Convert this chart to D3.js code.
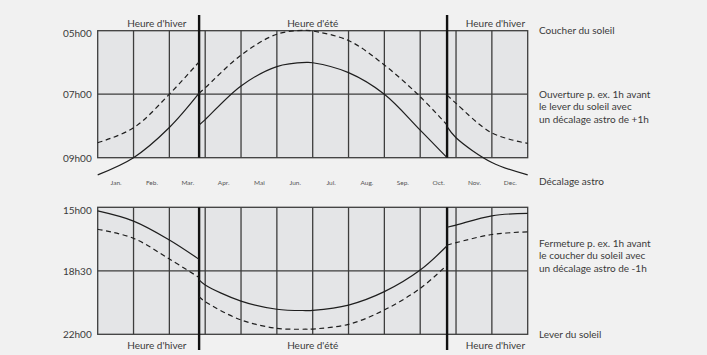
<!DOCTYPE html>
<html>
<head>
<meta charset="utf-8">
<script src="https://cdn.jsdelivr.net/npm/d3@7"></script>
<style>
  html, body { margin: 0; padding: 0; background: #f1f1f1; }
  svg { display: block; font-family: Lato, "Open Sans", sans-serif; }
</style>
</head>
<body>
<svg id="chart" width="707" height="355"></svg>
<script>
// Month names along the shared x axis
const months = ["Jan.", "Feb.", "Mar.", "Apr.", "Mai", "Jun.", "Jul.", "Aug.", "Sep.", "Oct.", "Nov.", "Dec."];

// Hour ticks for the morning (top) and evening (bottom) panels
const morningTicks = [5, 7, 9];
const morningLabels = ["05h00", "07h00", "09h00"];
const eveningTicks = [15, 18.5, 22];
const eveningLabels = ["15h00", "18h30", "22h00"];

// Clock change dates, as month positions (0 = 1 Jan, 12 = 31 Dec)
const dstStart = 2.83;
const dstEnd = 9.75;

// Morning, solid curve: [month position, hour]
const morningSolidWinter1 = [[0, 9.54], [1, 9.0], [2, 8.05], [2.83, 6.97]];
const morningSolidSummer = [[2.83, 7.97], [3, 7.8], [4, 6.74], [5, 6.13], [5.83, 6.0], [6, 6.01], [7, 6.32], [8, 7.0], [9, 8.13], [9.75, 9.0]];
const morningSolidWinter2 = [[9.75, 8.02], [10, 8.37], [11, 9.15], [12, 9.54]];

// Morning, dashed curve
const morningDashWinter1 = [[0, 8.53], [1, 8.06], [2, 7.0], [2.83, 5.98]];
const morningDashSummer = [[2.83, 6.97], [3, 6.8], [4, 5.77], [5, 5.11], [5.8, 4.99], [6, 5.01], [7, 5.31], [8, 6.08], [9, 7.08], [9.75, 7.97]];
const morningDashWinter2 = [[9.75, 7.03], [10, 7.29], [11, 8.22], [12, 8.55]];

// Evening, solid curve
const eveningSolidWinter1 = [[0, 15.2], [1, 15.76], [2, 16.8], [2.83, 17.87]];
const eveningSolidSummer = [[2.83, 19.0], [3, 19.28], [4, 20.17], [5, 20.62], [5.8, 20.69], [6, 20.68], [7, 20.39], [8, 19.65], [9, 18.46], [9.75, 17.12]];
const eveningSolidWinter2 = [[9.75, 16.1], [10, 15.98], [11, 15.47], [12, 15.33]];

// Evening, dashed curve
const eveningDashWinter1 = [[0, 16.21], [1, 16.71], [2, 17.85], [2.83, 18.87]];
const eveningDashSummer = [[2.83, 19.93], [3, 20.2], [4, 21.21], [5, 21.67], [5.8, 21.72], [6, 21.71], [7, 21.45], [8, 20.66], [9, 19.47], [9.75, 18.18]];
const eveningDashWinter2 = [[9.75, 17.08], [10, 16.95], [11, 16.5], [12, 16.35]];

// Season headers and side notes
const seasonNames = ["Heure d'hiver", "Heure d'été", "Heure d'hiver"];
const morningNotes = [
  { lines: ["Coucher du soleil"], y: 30 },
  { lines: ["Ouverture p. ex. 1h avant", "le lever du soleil avec", "un décalage astro de +1h"], y: 94 },
  { lines: ["Décalage astro"], y: 181 }
];
const eveningNotes = [
  { lines: ["Fermeture p. ex. 1h avant", "le coucher du soleil avec", "un décalage astro de -1h"], y: 243 },
  { lines: ["Lever du soleil"], y: 334 }
];

const svg = d3.select("#chart");
const gridColor = "#3d3d3d";
const inkColor = "#1e1e1e";
const textColor = "#3a3a3a";

const x = d3.scaleLinear().domain([0, 12]).range([97.7, 527.7]);
const yMorning = d3.scaleLinear().domain([5, 9]).range([30.7, 157.7]);
const yEvening = d3.scaleLinear().domain([15, 22]).range([207.3, 334.3]);

function drawPanel(y, ticks, labels, midValue) {
  const g = svg.append("g");
  const [y0, y1] = y.range();
  g.append("rect")
    .attr("x", x(0)).attr("y", y0)
    .attr("width", x(12) - x(0)).attr("height", y1 - y0)
    .attr("fill", "#e4e5e7");
  // month separators
  g.selectAll("line.month").data(d3.range(1, 12)).join("line")
    .attr("x1", d => x(d)).attr("x2", d => x(d))
    .attr("y1", y0).attr("y2", y1)
    .attr("stroke", gridColor).attr("stroke-width", 1.3);
  // middle hour line
  g.append("line")
    .attr("x1", x(0)).attr("x2", x(12))
    .attr("y1", y(midValue)).attr("y2", y(midValue))
    .attr("stroke", gridColor).attr("stroke-width", 1.3);
  g.append("rect")
    .attr("x", x(0)).attr("y", y0)
    .attr("width", x(12) - x(0)).attr("height", y1 - y0)
    .attr("fill", "none").attr("stroke", gridColor).attr("stroke-width", 1.3);

  // hour axis
  const axis = d3.axisLeft(y)
    .tickValues(ticks)
    .tickFormat((d, i) => labels[i])
    .tickSize(0).tickPadding(6);
  const ag = svg.append("g").attr("transform", `translate(${x(0)},0)`).call(axis);
  ag.select(".domain").remove();
  ag.selectAll("text")
    .attr("font-family", "Lato, 'Open Sans', sans-serif")
    .attr("font-size", 10).attr("fill", textColor)
    .attr("dy", (d, i) => i === 0 ? "0.62em" : "0.36em");
  return g;
}

drawPanel(yMorning, morningTicks, morningLabels, 7);
drawPanel(yEvening, eveningTicks, eveningLabels, 18.5);

// clock change markers
[dstStart, dstEnd].forEach(m => {
  svg.append("line")
    .attr("x1", x(m)).attr("x2", x(m))
    .attr("y1", 15).attr("y2", yMorning.range()[1])
    .attr("stroke", "#111").attr("stroke-width", 2.4);
  svg.append("line")
    .attr("x1", x(m)).attr("x2", x(m))
    .attr("y1", yEvening.range()[0]).attr("y2", 350)
    .attr("stroke", "#111").attr("stroke-width", 2.4);
});

// curves
function drawCurve(data, y, dashed) {
  const line = d3.line()
    .x(d => x(d[0])).y(d => y(d[1]))
    .curve(d3.curveCatmullRom.alpha(0.5));
  svg.append("path")
    .datum(data)
    .attr("d", line)
    .attr("fill", "none")
    .attr("stroke", inkColor)
    .attr("stroke-width", 1.2)
    .attr("stroke-dasharray", dashed ? "5,3.5" : null);
}

[morningSolidWinter1, morningSolidSummer, morningSolidWinter2].forEach(d => drawCurve(d, yMorning, false));
[morningDashWinter1, morningDashSummer, morningDashWinter2].forEach(d => drawCurve(d, yMorning, true));
[eveningSolidWinter1, eveningSolidSummer, eveningSolidWinter2].forEach(d => drawCurve(d, yEvening, false));
[eveningDashWinter1, eveningDashSummer, eveningDashWinter2].forEach(d => drawCurve(d, yEvening, true));

// month labels between the panels
const monthAxis = d3.axisBottom(x)
  .tickValues(d3.range(12).map(i => i + 0.5))
  .tickFormat((d, i) => months[i])
  .tickSize(0).tickPadding(0);
const mg = svg.append("g").attr("transform", "translate(0,180)").call(monthAxis);
mg.select(".domain").remove();
mg.selectAll("text")
  .attr("font-family", "Lato, 'Open Sans', sans-serif")
  .attr("font-size", 6.5).attr("fill", "#555");

// season headers above and below
const seasonPos = [1.65, 6.0, 11.1];
[23, 345.5].forEach(yy => {
  svg.selectAll(null).data(seasonNames).join("text")
    .attr("x", (d, i) => x(seasonPos[i]))
    .attr("y", yy)
    .attr("dy", "0.35em")
    .attr("text-anchor", "middle")
    .attr("font-size", 10)
    .attr("fill", textColor)
    .text(d => d);
});

// side notes
function drawNotes(notes) {
  notes.forEach(n => {
    const t = svg.append("text")
      .attr("x", 539).attr("y", n.y)
      .attr("font-size", 10).attr("fill", textColor);
    n.lines.forEach((l, i) => {
      t.append("tspan").attr("x", 539).attr("y", n.y + i * 12.8).attr("dy", "0.35em").text(l);
    });
  });
}
drawNotes(morningNotes);
drawNotes(eveningNotes);
</script>
</body>
</html>
